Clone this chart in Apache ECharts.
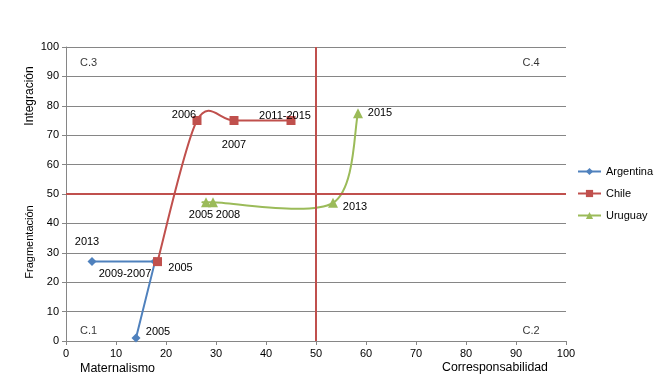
<!DOCTYPE html>
<html><head><meta charset="utf-8">
<script src="https://cdn.jsdelivr.net/npm/echarts@6/dist/echarts.min.js"></script>
<style>html,body{margin:0;padding:0;background:#fff}#c{width:657px;height:390px}</style>
</head><body><div id="c"></div>
<script>
const xTicks = [0,10,20,30,40,50,60,70,80,90,100];
const yTicks = [0,10,20,30,40,50,60,70,80,90,100];
const argentinaX = [5.2, 17.8, 14];
const argentinaY = [27, 27, 1];
const argentinaLabels = ['2013', '2009-2007', '2005'];
const chileX = [18.3, 26.2, 33.6, 45];
const chileY = [27, 75, 75, 75];
const chileLabels = ['2005', '2006', '2007', '2011-2015'];
const uruguayX = [28, 29.4, 53.4, 58.4];
const uruguayY = [47.2, 47.2, 47, 77.5];
const uruguayLabels = ['2005', '2008', '2013', '2015'];
const quadrantNames = ['C.3', 'C.4', 'C.1', 'C.2'];
const quadrantX = [4.5, 93, 4.5, 93];
const quadrantY = [94.5, 94.5, 3.5, 3.5];
const threshold = 50;

const FONT = 'Liberation Sans';
const COLORS = {Argentina:'#4F81BD', Chile:'#C0504D', Uruguay:'#9BBB59'};
const labelOffsets = {
  Argentina: [[-5,-20],[-30,12],[22,-6]],
  Chile: [[23,6],[-13,-6],[0,24],[-6,-5]],
  Uruguay: [[-5,13],[15,13],[22,4],[22,0]]
};
function pts(xs, ys, labels, name){
  return xs.map((x,i)=>({value:[x, ys[i]], label:{show:true, formatter:labels[i], offset:labelOffsets[name][i], position:'inside'}}));
}
// Excel-like smoothed curve (Catmull-Rom through the data points), drawn via the axis scales
function smoothCurve(name, xs, ys){
  return {
    name: name+'-curve', type:'custom', silent:true, z:2,
    data: xs.map((x,i)=>[x, ys[i]]),
    renderItem: function(params, api){
      const i = params.dataIndex;
      if (i >= xs.length-1) return null;
      const P = xs.map((x,k)=>api.coord([x, ys[k]]));
      const p0 = P[Math.max(i-1,0)], p1 = P[i], p2 = P[i+1], p3 = P[Math.min(i+2, P.length-1)];
      const t = 6.5;
      const c1 = [p1[0]+(p2[0]-p0[0])/t, p1[1]+(p2[1]-p0[1])/t];
      const c2 = [p2[0]-(p3[0]-p1[0])/t, p2[1]-(p3[1]-p1[1])/t];
      return {type:'bezierCurve', shape:{x1:p1[0], y1:p1[1], x2:p2[0], y2:p2[1], cpx1:c1[0], cpy1:c1[1], cpx2:c2[0], cpy2:c2[1]},
        style:{stroke:COLORS[name], lineWidth:2, fill:null}};
    }
  };
}
const chart = echarts.init(document.getElementById('c'));
const lblStyle = {color:'#000', fontFamily:FONT, fontSize:11};
chart.setOption({
  animation:false,
  textStyle:{fontFamily:FONT},
  grid:{left:66, right:91, top:47, bottom:49, containLabel:false},
  xAxis:{type:'value', min:0, max:100, interval:10,
    axisLine:{show:true, lineStyle:{color:'#868686'}},
    axisTick:{show:true, length:4, lineStyle:{color:'#868686'}},
    splitLine:{show:false},
    axisLabel:{color:'#000', fontSize:11, fontFamily:FONT, margin:7, formatter:v=>xTicks.includes(v)?String(v):''}},
  yAxis:{type:'value', min:0, max:100, interval:10,
    axisLine:{show:true, lineStyle:{color:'#868686'}},
    axisTick:{show:true, length:4, lineStyle:{color:'#868686'}},
    splitLine:{show:true, lineStyle:{color:'#868686', width:1}},
    axisLabel:{color:'#000', fontSize:11, fontFamily:FONT, margin:7, formatter:v=>yTicks.includes(v)?String(v):''}},
  legend:{orient:'vertical', left:572, top:161, itemWidth:23, itemHeight:9, itemGap:11, padding:5,
    textStyle:{fontSize:11, fontFamily:FONT, color:'#000'},
    data:[
      {name:'Argentina'},
      {name:'Chile', lineStyle:{color:COLORS.Chile, width:2, opacity:1}},
      {name:'Uruguay', lineStyle:{color:COLORS.Uruguay, width:2, opacity:1}}
    ]},
  graphic:[
    {type:'text', left:80, top:362, style:{text:'Maternalismo', fill:'#000', font:'12.5px '+FONT}},
    {type:'text', left:442, top:362, style:{text:'Corresponsabilidad', fill:'#000', font:'12.3px '+FONT}},
    {type:'text', x:30, y:96, rotation:Math.PI/2, style:{text:'Integración', fill:'#000', font:'12px '+FONT, align:'center', verticalAlign:'middle'}},
    {type:'text', x:30, y:242, rotation:Math.PI/2, style:{text:'Fragmentación', fill:'#000', font:'11px '+FONT, align:'center', verticalAlign:'middle'}}
  ],
  series:[
    {name:'Argentina', type:'line', smooth:false, symbol:'diamond', symbolSize:9,
      itemStyle:{color:COLORS.Argentina}, lineStyle:{color:COLORS.Argentina, width:2},
      label:lblStyle, data:pts(argentinaX, argentinaY, argentinaLabels, 'Argentina'), z:3},
    smoothCurve('Chile', chileX, chileY),
    smoothCurve('Uruguay', uruguayX, uruguayY),
    {name:'Chile', type:'line', symbol:'rect', symbolSize:9,
      itemStyle:{color:COLORS.Chile}, lineStyle:{color:COLORS.Chile, width:2, opacity:0},
      label:lblStyle, data:pts(chileX, chileY, chileLabels, 'Chile'), z:4,
      markLine:{silent:true, symbol:'none', label:{show:false},
        lineStyle:{color:COLORS.Chile, width:2, type:'solid', opacity:1},
        data:[{xAxis:threshold},{yAxis:threshold}]}},
    {name:'Uruguay', type:'line', symbol:'triangle', symbolSize:10,
      itemStyle:{color:COLORS.Uruguay}, lineStyle:{color:COLORS.Uruguay, width:2, opacity:0},
      label:lblStyle, data:pts(uruguayX, uruguayY, uruguayLabels, 'Uruguay'), z:3},
    {name:'quadrants', type:'scatter', symbolSize:0, silent:true,
      label:{show:true, position:'inside', color:'#000', fontFamily:FONT, fontSize:11, formatter:p=>quadrantNames[p.dataIndex]},
      data:quadrantX.map((x,i)=>[x, quadrantY[i]])}
  ]
});
</script></body></html>
